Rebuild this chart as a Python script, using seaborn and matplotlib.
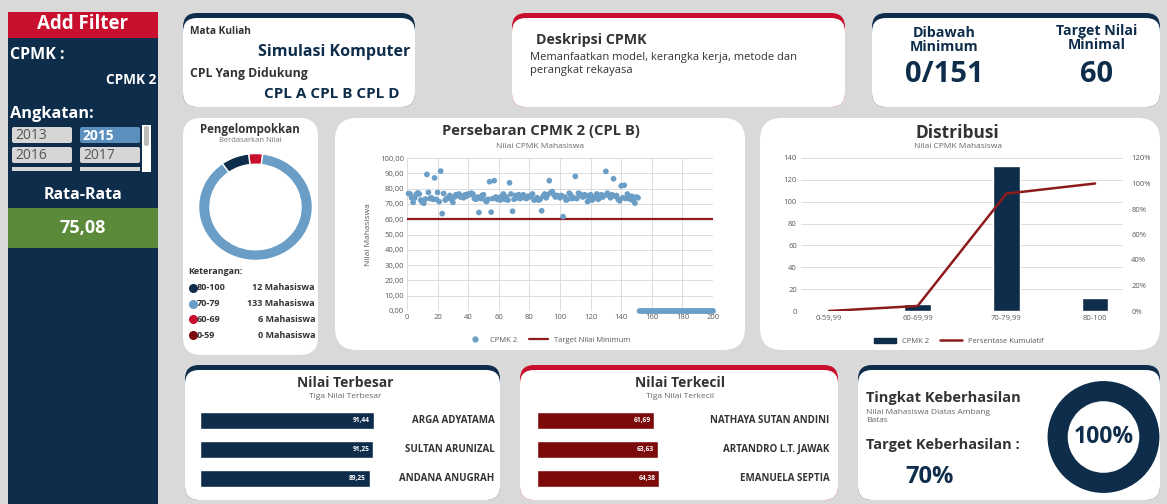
import matplotlib
matplotlib.use("Agg")
import matplotlib.pyplot as plt
from matplotlib.patches import FancyBboxPatch, Rectangle
from matplotlib.lines import Line2D
from matplotlib.ticker import FuncFormatter
import numpy as np
import pandas as pd
import seaborn as sns

# ── Data ──────────────────────────────────────────────────────────────────────

MATA_KULIAH = "Simulasi Komputer"
CPL_DIDUKUNG = "CPL A CPL B CPL D"
DESKRIPSI = "Memanfaatkan model, kerangka kerja, metode dan\nperangkat rekayasa"
ANGKATAN = ["2013", "2015", "2016", "2017"]
RATA_RATA = "75,08"
DIBAWAH_MIN = "0/151"
TARGET_NILAI = 60
TARGET_KEBERHASILAN = "70%"
TINGKAT_KEBERHASILAN = "100%"

# nilai CPMK 2 per mahasiswa (row 1..151), rows 152..200 kosong (0)
nilai = [
    76.8, 76.5, 74.0, 71.0, 73.8, 76.2, 77.2, 76.5, 72.5, 71.0,
    70.5, 73.2, 89.25, 77.5, 73.5, 74.0, 73.0, 87.0, 73.0, 77.5,
    71.5, 91.44, 63.63, 76.8, 72.5, 73.5, 74.0, 75.5, 73.0, 71.0,
    74.5, 76.0, 75.5, 76.5, 74.5, 75.0, 74.0, 76.0, 75.0, 76.5,
    76.0, 77.0, 76.5, 73.5, 73.0, 74.5, 64.38, 73.5, 75.5, 76.0,
    72.5, 71.5, 73.0, 84.5, 64.6, 73.5, 85.2, 74.5, 73.0, 74.0,
    72.5, 75.0, 76.5, 73.0, 74.5, 72.5, 83.8, 76.5, 65.2, 73.0,
    75.5, 74.0, 76.0, 73.5, 75.0, 76.0, 74.0, 73.5, 75.0, 74.5,
    75.5, 76.5, 72.5, 73.0, 74.0, 72.5, 73.0, 65.5, 75.0, 76.5,
    74.0, 76.0, 85.2, 77.5, 78.0, 76.0, 74.5, 75.5, 75.0, 74.0,
    75.5, 61.69, 74.5, 72.5, 73.0, 77.0, 76.0, 73.5, 74.0, 88.0,
    73.5, 77.0, 76.5, 75.0, 74.5, 76.0, 75.5, 71.5, 74.0, 76.0,
    72.5, 73.5, 75.0, 76.5, 73.0, 74.0, 76.0, 74.5, 75.5, 91.25,
    77.0, 75.5, 74.0, 76.0, 86.4, 75.0, 75.5, 73.0, 72.0, 81.8,
    74.0, 82.2, 73.5, 76.5, 74.0, 73.0, 75.0, 72.0, 70.5, 74.5,
    74.0,
]
nilai_kosong = [0.0] * 49

kelompok = ["80-100", "70-79", "60-69", "0-59"]
jumlah_kelompok = [12, 133, 6, 0]

dist_kategori = ["0-59,99", "60-69,99", "70-79,99", "80-100"]
dist_jumlah = [0, 6, 133, 12]
dist_kumulatif = [0.0, 3.97, 92.05, 100.0]

terbesar_nama = ["ARGA ADYATAMA", "SULTAN ARUNIZAL", "ANDANA ANUGRAH"]
terbesar_nilai = [91.44, 91.25, 89.25]
terkecil_nama = ["NATHAYA SUTAN ANDINI", "ARTANDRO L.T. JAWAK", "EMANUELA SEPTIA"]
terkecil_nilai = [61.69, 63.63, 64.38]

# ── Style ─────────────────────────────────────────────────────────────────────

NAVY = "#0e2d4b"
RED = "#c8102e"
DARKRED = "#7d0a0a"
LINE_RED = "#8e1b1b"
STEEL = "#6b9ec6"
GREEN = "#5b8a3a"
BG = "#d9d9d9"
TXT = "#333333"
TICK = "#595959"

sns.set_theme(style="whitegrid")
plt.rcParams["font.family"] = ["Open Sans", "DejaVu Sans"]

W, H = 1167, 504
fig = plt.figure(figsize=(W / 100, H / 100), dpi=100)
fig.patch.set_facecolor(BG)

bg = fig.add_axes([0, 0, 1, 1])
bg.set_xlim(0, W)
bg.set_ylim(H, 0)
bg.axis("off")
bg.add_patch(Rectangle((0, 0), W, H, fc=BG, ec="none", zorder=0))


def px_axes(x0, y0, x1, y1):
    return fig.add_axes([x0 / W, 1 - y1 / H, (x1 - x0) / W, (y1 - y0) / H])


def card(x0, y0, x1, y1, top=None, r=14):
    if top:
        bg.add_patch(FancyBboxPatch((x0, y0), x1 - x0, y1 - y0,
                                    boxstyle=f"round,pad=0,rounding_size={r}",
                                    fc=top, ec="none", zorder=1))
        y0 += 5
    bg.add_patch(FancyBboxPatch((x0, y0), x1 - x0, y1 - y0,
                                boxstyle=f"round,pad=0,rounding_size={r}",
                                fc="white", ec="none", zorder=1))


def txt(x, y, s, size=8, color=TXT, weight="bold", ha="left", va="center", **kw):
    bg.text(x, y, s, fontsize=size, color=color, fontweight=weight,
            ha=ha, va=va, zorder=5, **kw)


# ── Sidebar ───────────────────────────────────────────────────────────────────

bg.add_patch(Rectangle((8, 12), 150, H - 12, fc=NAVY, ec="none", zorder=1))
bg.add_patch(Rectangle((8, 12), 150, 26, fc=RED, ec="none", zorder=2))
txt(83, 24, "Add Filter", 13.5, "white", ha="center")
txt(10, 55, "CPMK :", 11.5, "white")
txt(156, 80, "CPMK 2", 9.8, "white", ha="right")
txt(10, 114, "Angkatan:", 11.8, "white")

slicer_pos = [(12, 127), (80, 127), (12, 147), (80, 147)]
for (sx, sy), year in zip(slicer_pos, ANGKATAN):
    aktif = year == "2015"
    bg.add_patch(FancyBboxPatch((sx, sy), 60, 16, boxstyle="round,pad=0,rounding_size=2",
                                fc="#5b8fbd" if aktif else "#d6d6d6", ec="none", zorder=2))
    txt(sx + 3, sy + 8.5, year, 10, "white" if aktif else "#555555",
        weight="bold" if aktif else "normal")
for sx in (12, 80):
    bg.add_patch(Rectangle((sx, 167), 60, 4, fc="#d6d6d6", ec="none", zorder=2))
bg.add_patch(Rectangle((142, 125), 9, 47, fc="white", ec="none", zorder=2))
bg.add_patch(FancyBboxPatch((144, 126), 5, 20, boxstyle="round,pad=0,rounding_size=2",
                            fc="#bdbdbd", ec="none", zorder=3))

txt(83, 195, "Rata-Rata", 11.5, "white", ha="center")
bg.add_patch(Rectangle((8, 208), 150, 40, fc=GREEN, ec="none", zorder=2))
txt(83, 228, RATA_RATA, 13, "white", ha="center")

# ── Top cards ─────────────────────────────────────────────────────────────────

card(183, 13, 415, 107, NAVY)
txt(190, 32, "Mata Kuliah", 7.3)
txt(334, 52, MATA_KULIAH, 11.5, NAVY, ha="center")
txt(190, 73, "CPL Yang Didukung", 8.8)
txt(332, 94, CPL_DIDUKUNG, 11, NAVY, ha="center")

card(512, 13, 845, 107, RED)
txt(536, 40, "Deskripsi CPMK", 10.3)
txt(530, 64, DESKRIPSI, 8, TXT, weight="normal", linespacing=1.3)

card(872, 13, 1160, 107, NAVY)
txt(944, 40, "Dibawah\nMinimum", 10.3, NAVY, ha="center", linespacing=1.0)
txt(944, 74, DIBAWAH_MIN, 21, NAVY, ha="center")
txt(1097, 38, "Target Nilai\nMinimal", 10.2, NAVY, ha="center", linespacing=1.0)
txt(1097, 74, str(TARGET_NILAI), 21, NAVY, ha="center")

# ── Middle cards ──────────────────────────────────────────────────────────────

card(183, 118, 318, 355, r=18)
card(335, 118, 745, 350, r=22)
card(760, 118, 1160, 350, r=22)

# donut pengelompokan
txt(250, 130, "Pengelompokkan", 8.3, ha="center")
txt(250, 141, "Berdasarkan Nilai", 5.5, "#777777", weight="normal", ha="center")
ax_d = px_axes(198, 153, 313, 261)
urut = [2, 1, 0]  # 60-69, 70-79, 80-100 clockwise from top
warna_kelompok = [NAVY, STEEL, RED, DARKRED]
ax_d.pie([jumlah_kelompok[i] for i in urut], colors=[warna_kelompok[i] for i in urut],
         startangle=97, counterclock=False,
         wedgeprops=dict(width=0.2, edgecolor="white", linewidth=1))
ax_d.set_aspect("auto")
ax_d.set_xlim(-1.01, 1.01)
ax_d.set_ylim(-1.01, 1.01)

txt(188, 271, "Keterangan:", 6.5)
for k, (lab, n, c) in enumerate(zip(kelompok, jumlah_kelompok, warna_kelompok)):
    yy = 288 + k * 15.7
    bg.plot(193, yy, "o", ms=5.5, color=c, zorder=5)
    txt(197, yy, lab, 6.5)
    txt(315, yy, f"{n} Mahasiswa", 6.5, ha="right")

# scatter persebaran
txt(541, 131, "Persebaran CPMK 2 (CPL B)", 10.6, ha="center")
txt(540, 147, "Nilai CPMK Mahasiswa", 6, "#666666", weight="normal", ha="center")
semua = nilai + nilai_kosong
df_sc = pd.DataFrame({"no": range(1, len(semua) + 1), "nilai": semua})
ax_s = px_axes(407, 158, 713, 311)
sns.scatterplot(data=df_sc, x="no", y="nilai", ax=ax_s, color=STEEL, s=17,
                edgecolor="none", zorder=3, legend=False, clip_on=False)
sns.lineplot(x=[0, 200], y=[TARGET_NILAI, TARGET_NILAI], ax=ax_s, color=LINE_RED,
             linewidth=1.6, zorder=2)
ax_s.set_xlim(0, 200)
ax_s.set_ylim(0, 100)
ax_s.set_xticks(range(0, 201, 20))
ax_s.set_yticks(range(0, 101, 10))
ax_s.yaxis.set_major_formatter(FuncFormatter(lambda v, p: f"{v:.2f}".replace(".", ",")))
ax_s.tick_params(labelsize=5.5, colors=TICK, pad=2, length=0)
ax_s.set_xlabel("")
ax_s.set_ylabel("Nilai Mahasiswa", fontsize=6, color=TICK, labelpad=6)
ax_s.grid(True, color="#dcdcdc", linewidth=0.7)
for sp in ax_s.spines.values():
    sp.set_visible(False)
ax_s.set_facecolor("white")
h_sc = [Line2D([], [], marker="o", ls="none", color=STEEL, ms=3.5, label="CPMK 2"),
        Line2D([], [], color=LINE_RED, lw=1.6, label="Target Nilai Minimum")]
ax_s.legend(handles=h_sc, loc="upper center", bbox_to_anchor=(0.46, -0.12), ncol=2,
            frameon=False, fontsize=5.5, labelcolor=TICK, handlelength=2.5, columnspacing=1.5)

# distribusi
txt(957, 133, "Distribusi", 12.5, ha="center")
txt(958, 147, "Nilai CPMK Mahasiswa", 6, "#666666", weight="normal", ha="center")
ax_b = px_axes(801, 158, 1123, 311)
sns.barplot(x=dist_kategori, y=dist_jumlah, ax=ax_b, color=NAVY, width=0.3,
            saturation=1, zorder=3)
ax_b.set_ylim(0, 140)
ax_b.set_yticks(range(0, 141, 20))
ax_b.grid(True, axis="y", color="#dcdcdc", linewidth=0.7)
ax_b.grid(False, axis="x")
ax_b.tick_params(labelsize=5.5, colors=TICK, pad=3, length=0)
for sp in ax_b.spines.values():
    sp.set_visible(False)
ax_b.set_facecolor("white")
ax_c = ax_b.twinx()
sns.lineplot(x=np.arange(len(dist_kategori)), y=dist_kumulatif, ax=ax_c,
             color=LINE_RED, linewidth=1.8)
ax_c.set_ylim(0, 120)
ax_c.set_yticks(range(0, 121, 20))
ax_c.yaxis.set_major_formatter(FuncFormatter(lambda v, p: f"{v:.0f}%"))
ax_c.tick_params(labelsize=5.5, colors=TICK, pad=6, length=0)
ax_c.grid(False)
for sp in ax_c.spines.values():
    sp.set_visible(False)
h_b = [Rectangle((0, 0), 1, 1, color=NAVY, label="CPMK 2"),
       Line2D([], [], color=LINE_RED, lw=1.8, label="Persentase Kumulatif")]
ax_b.legend(handles=h_b, loc="upper center", bbox_to_anchor=(0.49, -0.13), ncol=2,
            frameon=False, fontsize=5.5, labelcolor=TICK, handlelength=2.8,
            handleheight=0.6, columnspacing=1.5)

# ── Bottom cards ──────────────────────────────────────────────────────────────

card(185, 365, 500, 500, NAVY)
card(520, 365, 838, 500, RED)
card(858, 365, 1160, 500, NAVY)


def top_bars(x0, names, vals, color, title, sub, cx, name_x):
    txt(cx, 383, title, 10, ha="center")
    txt(cx, 396, sub, 6, "#666666", weight="normal", ha="center")
    ax = px_axes(x0, 406, x0 + 190, 493)
    sns.barplot(x=vals, y=list(range(len(vals))), orient="h", ax=ax, color=color,
                width=0.6, saturation=1)
    ax.set_xlim(0, 100)
    ax.axis("off")
    for i, (n, v) in enumerate(zip(names, vals)):
        ax.text(v - 2, i, f"{v:.2f}".replace(".", ","), ha="right", va="center",
                fontsize=4.8, color="white", fontweight="bold")
        ax.text(name_x, i, n, ha="right", va="center", fontsize=7,
                color=TXT, fontweight="bold", clip_on=False)


top_bars(200, terbesar_nama, terbesar_nilai, NAVY, "Nilai Terbesar",
         "Tiga Nilai Terbesar", 345, 155)
top_bars(537, terkecil_nama, terkecil_nilai, DARKRED, "Nilai Terkecil",
         "Tiga Nilai Terkecil", 680, 154)

txt(866, 398, "Tingkat Keberhasilan", 10.5)
txt(866, 416, "Nilai Mahasiswa Diatas Ambang\nBatas", 6, "#666666", weight="normal",
    linespacing=1.2)
txt(866, 445, "Target Keberhasilan :", 10.5)
txt(905, 477, TARGET_KEBERHASILAN, 17, NAVY)

ax_k = px_axes(1047, 380, 1160, 494)
ax_k.pie([100], colors=[NAVY], startangle=90,
         wedgeprops=dict(width=0.36, edgecolor="none"))
ax_k.set_xlim(-1.01, 1.01)
ax_k.set_ylim(-1.01, 1.01)
ax_k.text(0, 0, TINGKAT_KEBERHASILAN, ha="center", va="center", fontsize=16.5,
          fontweight="bold", color=NAVY)

fig.savefig("out.png", dpi=100, facecolor=BG)
